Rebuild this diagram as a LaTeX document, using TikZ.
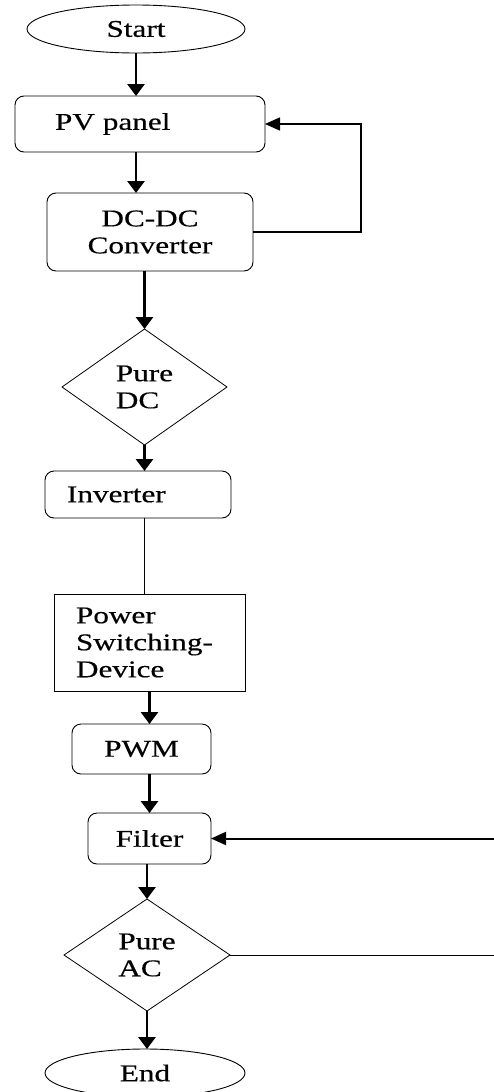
\documentclass[tikz,border=0pt]{standalone}
\usepackage{fontspec}
\setmainfont{Liberation Serif}[FakeStretch=1.3, FakeBold=0.4]
\usepackage{tikz}
\usetikzlibrary{positioning}
\usetikzlibrary{shapes.geometric,arrows.meta}

\tikzset{
	terminal/.style={ellipse, draw, line width=0.9pt, outer sep=0pt},
	process/.style={rectangle, rounded corners=9pt, draw, line width=0.9pt, outer sep=0pt},
	decision/.style={diamond, draw, line width=0.8pt, inner sep=0pt, outer sep=0pt, align=left},
	flow/.style={-{Triangle[width=17pt,length=12pt]}, line width=2.8pt},
	back/.style={-{Triangle[width=13pt,length=15pt]}, line width=1.4pt},
}

\begin{document}
\begin{tikzpicture}[x=1pt, y=-1pt, font=\fontsize{24}{27}\selectfont]
		\useasboundingbox (0,0) rectangle (494,1092);

		\node[terminal, minimum width=218pt, minimum height=48pt] (start) at (136,29) {Start};
		\node[process, minimum width=250pt, minimum height=56pt, text width=170pt, inner xsep=40pt, align=left] (pv) [below = 43pt of start, xshift=4pt] {PV panel};
		\node[process, minimum width=206pt, minimum height=78pt, align=center] (dc) [below = 41pt of pv, xshift=10pt] {DC-DC\\Converter};
		\node[decision, minimum width=165pt, minimum height=116pt] (puredc) [below = 58pt of dc, xshift=-5.5pt] {Pure\\DC};
		\node[process, minimum width=186pt, minimum height=47pt, text width=142pt, inner xsep=22pt, align=left] (inv) [below = 26pt of puredc, xshift=-6.5pt] {Inverter};
		\node[rectangle, draw, line width=0.9pt, outer sep=0pt, minimum width=191pt, minimum height=97pt, text width=147pt, inner xsep=22pt, align=left] (psd) [below = 76pt of inv, xshift=11.5pt] {Power\\Switching-\\Device};
		\node[process, minimum width=139pt, minimum height=50pt] (pwm) [below = 33pt of psd, xshift=-8pt] {PWM};
		\node[process, minimum width=123pt, minimum height=51pt] (filter) [below = 39pt of pwm, xshift=8pt] {Filter};
		\node[decision, minimum width=166pt, minimum height=112pt] (pureac) [below = 35pt of filter, xshift=-2.5pt] {Pure\\AC};
		\node[terminal, minimum width=200pt, minimum height=48pt] (end) [below = 38pt of pureac, xshift=-2pt] {End};

		\coordinate (ret) at ([xshift=280pt]pureac.east);

		\draw[flow] (start.south) -- (start.south |- pv.north);
		\draw[flow] (pv.south -| start.south) -- (dc.north -| start.south);
		\draw[flow] (dc.south -| puredc.north) -- (puredc.north);
		\draw[flow] (puredc.south) -- (puredc.south |- inv.north);
		\draw[line width=1pt] (inv.south -| puredc.south) -- (psd.north -| puredc.south);
		\draw[flow] (psd.south) -- (psd.south |- pwm.north);
		\draw[flow] (pwm.south -| filter.north) -- (filter.north);
		\draw[flow] (filter.south -| pureac.north) -- (pureac.north);
		\draw[flow] (pureac.south) -- (pureac.south |- end.north);

		\draw[back] (dc.east) -- ++(108,0) |- (pv.east);
		\draw[line width=1pt] (pureac.east) -- (ret);
		\draw[back, line width=2pt] (ret) |- (filter.east);
	\end{tikzpicture}
\end{document}
